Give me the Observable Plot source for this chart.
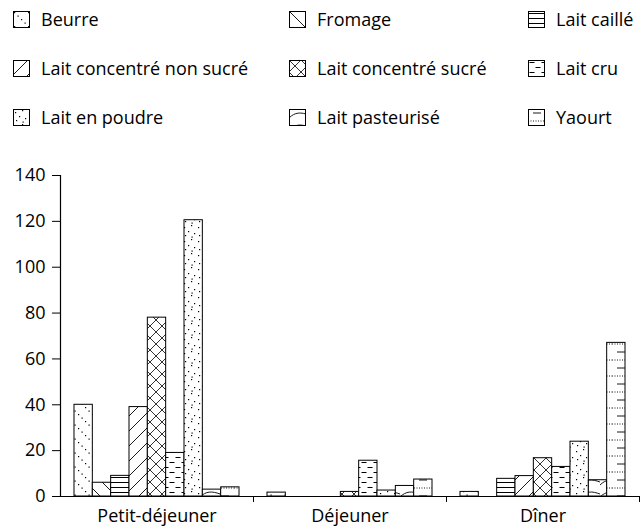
<!DOCTYPE html>
<html><head><meta charset="utf-8">
<script src="https://cdn.jsdelivr.net/npm/d3@7"></script>
<script src="https://cdn.jsdelivr.net/npm/@observablehq/plot@0.6"></script>
<style>
body{margin:0;background:#fff;font-family:"Open Sans",sans-serif;}
#legend{position:relative;height:140px;width:640px;overflow:hidden;}
.item{position:absolute;display:flex;align-items:center;height:24px;font-size:18px;color:#000;white-space:nowrap;}
.item svg{margin-right:11px;flex:none;}
</style></head><body>
<svg width="0" height="0" style="position:absolute">
<defs>
<pattern id="p0" patternUnits="userSpaceOnUse" width="14" height="14">
 <rect width="14" height="14" fill="#fff"/>
 <g fill="#000"><rect x="1" y="1" width="1.2" height="1.2"/><rect x="4.5" y="4.5" width="1.2" height="1.2"/><rect x="8" y="8" width="1.2" height="1.2"/><rect x="11.5" y="11.5" width="1.2" height="1.2"/></g>
</pattern>
<pattern id="p1" patternUnits="userSpaceOnUse" width="16" height="16">
 <rect width="16" height="16" fill="#fff"/>
 <path d="M0,0L16,16M-4,12L4,20M12,-4L20,4" stroke="#000" stroke-width="0.9"/>
</pattern>
<pattern id="p2" patternUnits="userSpaceOnUse" width="8" height="5">
 <rect width="8" height="5" fill="#fff"/>
 <path d="M0,2.5H8" stroke="#000" stroke-width="1"/>
</pattern>
<pattern id="p3" patternUnits="userSpaceOnUse" width="15" height="15">
 <rect width="15" height="15" fill="#fff"/>
 <path d="M0,15L15,0M-4,4L4,-4M11,19L19,11" stroke="#000" stroke-width="0.9"/>
</pattern>
<pattern id="p4" patternUnits="userSpaceOnUse" width="12" height="12">
 <rect width="12" height="12" fill="#fff"/>
 <path d="M0,0L12,12M12,0L0,12" stroke="#000" stroke-width="0.8"/>
</pattern>
<pattern id="p5" patternUnits="userSpaceOnUse" width="12" height="10">
 <rect width="12" height="10" fill="#fff"/>
 <path d="M1.5,2.5H6.5M7.5,7.5H12.5M-0.5,7.5H0.5" stroke="#000" stroke-width="1"/>
</pattern>
<pattern id="p6" patternUnits="userSpaceOnUse" width="14" height="14">
 <rect width="14" height="14" fill="#fff"/>
 <g fill="#000"><rect x="2" y="3" width="1.2" height="1.2"/><rect x="9" y="1" width="1.2" height="1.2"/><rect x="6" y="7" width="1.2" height="1.2"/><rect x="12" y="9" width="1.2" height="1.2"/><rect x="3" y="11" width="1.2" height="1.2"/><rect x="9.5" y="12.5" width="1.2" height="1.2"/></g>
</pattern>
<pattern id="p7" patternUnits="userSpaceOnUse" width="20" height="12">
 <rect width="20" height="12" fill="#fff"/>
 <path d="M0,9C6,3 12,3 20,6" stroke="#000" stroke-width="0.9" fill="none"/>
</pattern>
<pattern id="p8" patternUnits="userSpaceOnUse" width="18" height="16">
 <rect width="18" height="16" fill="#fff"/>
 <path d="M0,12H18" stroke="#000" stroke-width="0.9" stroke-dasharray="1,1.5"/>
 <path d="M5,4H13" stroke="#000" stroke-width="0.9"/>
</pattern>
</defs>
</svg>
<div id="legend"></div>
<div id="chart"></div>
<script>
// Categories
const meals = ["Petit-déjeuner", "Déjeuner", "Dîner"];
const products = ["Beurre", "Fromage", "Lait caillé", "Lait concentré non sucré", "Lait concentré sucré", "Lait cru", "Lait en poudre", "Lait pasteurisé", "Yaourt"];
// Series values (Petit-déjeuner, Déjeuner, Dîner)
const beurre = [40, 1.7, 2];
const fromage = [6, 0, 0];
const laitCaille = [9, 0, 7.7];
const laitConcNonSucre = [39, 0, 8.9];
const laitConcSucre = [78, 2, 16.7];
const laitCru = [19, 15.6, 12.9];
const laitPoudre = [120.5, 2.6, 23.9];
const laitPasteurise = [3, 4.6, 7.1];
const yaourt = [4, 7.4, 67];
// Axis ticks
const yTicks = [0, 20, 40, 60, 80, 100, 120, 140];

const seriesValues = [beurre, fromage, laitCaille, laitConcNonSucre, laitConcSucre, laitCru, laitPoudre, laitPasteurise, yaourt];
const patterns = products.map((_, i) => `url(#p${i})`);

// Legend (3 columns x 3 rows)
const legend = document.getElementById("legend");
const colX = [13, 289, 528];
const rowY = [19, 68, 117];
products.forEach((p, i) => {
  const div = document.createElement("div");
  div.className = "item";
  div.style.left = colX[i % 3] + "px";
  div.style.top = (rowY[Math.floor(i / 3)] - 12) + "px";
  div.innerHTML = `<svg width="17" height="17"><rect x="0.5" y="0.5" width="16" height="16" fill="${patterns[i]}" stroke="#000" stroke-width="1"/></svg><span>${p}</span>`;
  legend.appendChild(div);
});

// Table built from the arrays: one bar per (meal, product)
const n = products.length;
const barW = 0.095;
const offset = (1 - n * barW) / 2;
const rows = [];
meals.forEach((m, g) => {
  products.forEach((p, s) => {
    const v = seriesValues[s][g];
    if (v > 0) rows.push({meal: m, product: p, value: v, x1: g + offset + s * barW, x2: g + offset + (s + 1) * barW, pat: patterns[s]});
  });
});

const chart = Plot.plot({
  width: 640,
  height: 389,
  marginLeft: 60,
  marginRight: 1,
  marginTop: 35,
  marginBottom: 33,
  style: {fontFamily: "Open Sans, sans-serif", fontSize: "18px", color: "#000", background: "#fff", overflow: "visible"},
  x: {domain: [0, 3]},
  y: {domain: [0, 140]},
  color: {type: "identity"},
  marks: [
    Plot.rect(rows, {x1: "x1", x2: "x2", y1: 0, y2: "value", fill: "pat", stroke: "#000", strokeWidth: 1}),
    Plot.ruleY([0], {stroke: "#000", strokeWidth: 1.2}),
    Plot.ruleX([0], {stroke: "#000", strokeWidth: 1.2}),
    Plot.axisY({ticks: yTicks, tickSize: 8, tickPadding: 7, label: null}),
    Plot.axisX({ticks: [1, 2, 3], tickSize: 6, tickFormat: () => "", label: null}),
    Plot.axisX({ticks: [0.5, 1.5, 2.5], tickSize: 0, tickPadding: 13, tickFormat: d => meals[Math.floor(d)], label: null})
  ]
});
document.getElementById("chart").appendChild(chart);
</script>
</body></html>
